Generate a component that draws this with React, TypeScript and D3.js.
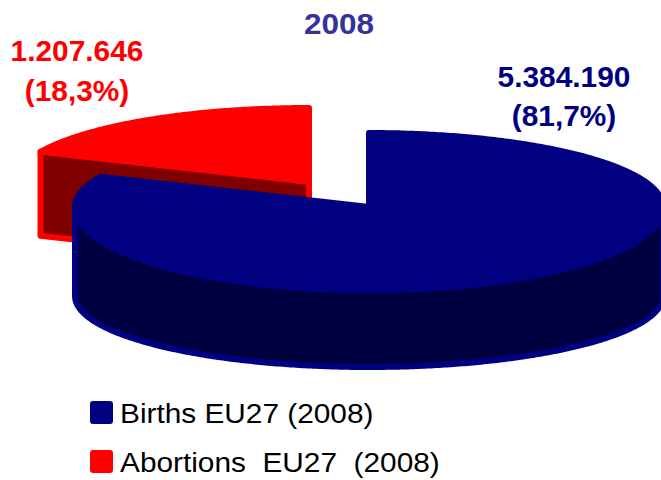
import React from "react";
import * as d3 from "d3";

const categories = ["Births EU27 (2008)", "Abortions  EU27  (2008)"];
const values = [5384190, 1207646];
const valueLabels = ["5.384.190", "1.207.646"];
const shareLabels = ["(81,7%)", "(18,3%)"];
const topColors = ["#000080", "#ff0000"];
const sideColors = ["#000040", "#800000"];

const width = 661;
const height = 480;
const font = "'Liberation Sans', Arial, sans-serif";

const cx = 369; // pie centre, before the explode offset
const cy = 207;
const rx = 294;
const ryBack = 74; // back of the tilted disc looks flatter than the front
const ryFront = 83;
const lowerCy = 296; // lower rim of the blue wall is a flatter ellipse
const lowerRy = 71;
const redDepth = 84;
const explode = { x: -60, y: -25 };

// tilted disc projection, angle 0 is at the top, clockwise
const project = (a: number, dx = 0, dy = 0): [number, number] => {
  const c = Math.cos(a);
  return [cx + dx + rx * Math.sin(a), cy + dy - (c > 0 ? ryBack : ryFront) * c];
};

const slices = d3.pie<number>().sort(null)(values);
const line = d3.line();
const arcPoints = (start: number, end: number, dx = 0, dy = 0) =>
  d3.range(start, end, 0.01).concat(end).map((a) => project(a, dx, dy));

export default function App() {
  const [births, abortions] = slices;

  const redTop = [
    ...arcPoints(abortions.startAngle, abortions.endAngle, explode.x, explode.y),
    [cx + explode.x, cy + explode.y] as [number, number],
  ];
  const redEnd = project(abortions.startAngle, explode.x, explode.y);
  const redWall: [number, number][] = [
    redEnd,
    [cx + explode.x, cy + explode.y],
    [cx + explode.x, cy + explode.y + redDepth],
    [redEnd[0], redEnd[1] + redDepth],
  ];

  const blueTop = [
    [cx, cy] as [number, number],
    ...arcPoints(births.startAngle, births.endAngle),
  ];
  const frontAngles = d3.range(Math.PI / 2, (3 * Math.PI) / 2, 0.01).concat((3 * Math.PI) / 2);
  const blueSide = [
    ...frontAngles.map((a) => project(a)),
    ...frontAngles
      .slice()
      .reverse()
      .map((a) => [cx + rx * Math.sin(a), lowerCy - lowerRy * Math.cos(a)] as [number, number]),
  ];

  const boldLabel = (x: number, y: number, size: number, stretch: number, fill: string, s: string) => (
    <text
      key={s}
      transform={`translate(${x}, ${y}) scale(${stretch}, 1)`}
      fontSize={size}
      fill={fill}
    >
      {s}
    </text>
  );

  return (
    <svg
      width={width}
      height={height}
      style={{ position: "absolute", left: 0, top: 0, background: "#fff" }}
    >
      <g strokeWidth={6} strokeLinejoin="round">
        <path d={line(redTop)! + "Z"} fill={topColors[1]} stroke={topColors[1]} />
        <path d={line(redWall)! + "Z"} fill={sideColors[1]} stroke={topColors[1]} />
        <path d={line(blueSide)! + "Z"} fill={sideColors[0]} stroke={topColors[0]} />
        <path d={line(blueTop)! + "Z"} fill={topColors[0]} stroke={topColors[0]} />
      </g>

      <g fontFamily={font} fontWeight="bold" textAnchor="middle">
        {boldLabel(339, 34, 30, 1.05, "#333399", "2008")}
        {boldLabel(77, 61, 29, 1.03, topColors[1], valueLabels[1])}
        {boldLabel(77, 101, 29, 1.03, topColors[1], shareLabels[1])}
        {boldLabel(564, 87, 29, 1.03, topColors[0], valueLabels[0])}
        {boldLabel(564, 126, 29, 1.03, topColors[0], shareLabels[0])}
      </g>

      {categories.map((c, i) => (
        <g key={c} transform={`translate(90, ${401 + i * 49})`}>
          <rect width={23} height={23} rx={3} fill={topColors[i]} />
          <text
            transform={`translate(30, 22) scale(1.065, 1)`}
            fontFamily={font}
            fontSize={28}
            fill="#000"
            style={{ whiteSpace: "pre" }}
          >
            {c}
          </text>
        </g>
      ))}
    </svg>
  );
}
